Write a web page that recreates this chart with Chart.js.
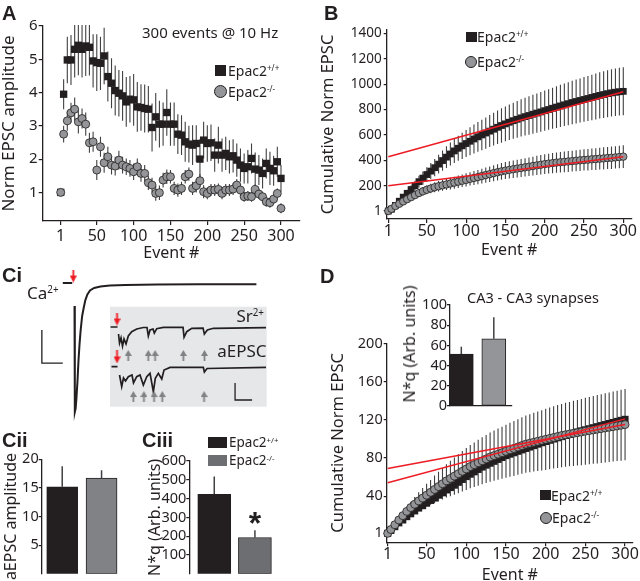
<!DOCTYPE html>
<html>
<head>
<meta charset="utf-8">
<script src="https://cdn.jsdelivr.net/npm/chart.js"></script>
<style>
  body { margin: 0; background: #fff; }
  #fig { position: relative; width: 640px; height: 581px; overflow: hidden; background: #fff;
         font-family: 'Noto Sans', sans-serif; color: #231f20; }
  #fig canvas { position: absolute; left: 0; top: 0; }
  .lbl { position: absolute; white-space: nowrap; line-height: 1; transform: translateY(-50%); }
  .ctr { position: absolute; white-space: nowrap; line-height: 1; transform: translate(-50%, -50%); }
  .rot { position: absolute; white-space: nowrap; line-height: 1; transform: translate(-50%, -50%) rotate(-90deg); }
  .panel { position: absolute; font: bold 20px 'Liberation Sans', Arial, sans-serif; line-height: 1; }
  .sq { position: absolute; background: #231f20; }
  .dot { position: absolute; border-radius: 50%; background: #939598; border: 1px solid #231f20; box-sizing: border-box; }
  sup { font-size: 58%; vertical-align: 0.6em; line-height: 0; }
</style>
</head>
<body>
<div id="fig">
  <canvas id="cA" width="640" height="581"></canvas>
  <canvas id="cB" width="640" height="581"></canvas>
  <canvas id="cCa" width="640" height="581"></canvas>
  <canvas id="cSr" width="640" height="581"></canvas>
  <canvas id="cCii" width="640" height="581"></canvas>
  <canvas id="cCiii" width="640" height="581"></canvas>
  <canvas id="cD" width="640" height="581"></canvas>
  <canvas id="cDin" width="640" height="581"></canvas>

  <div class="panel" style="left:2px;top:2.5px">A</div>
  <div class="panel" style="left:324px;top:2.5px">B</div>
  <div class="panel" style="left:2px;top:264.5px">Ci</div>
  <div class="panel" style="left:320px;top:265.5px">D</div>
  <div class="panel" style="left:2px;top:429.5px">Cii</div>
  <div class="panel" style="left:142px;top:429.5px">Ciii</div>

  <div class="lbl" style="left:142px;top:32px;font-size:15px">300 events @ 10 Hz</div>
  <div class="sq" style="left:215px;top:65px;width:11px;height:11px"></div>
  <div class="lbl" style="left:228px;top:71px;font-size:14px">Epac2<sup>+/+</sup></div>
  <div class="dot" style="left:213.5px;top:85px;width:13px;height:13px"></div>
  <div class="lbl" style="left:228px;top:92px;font-size:14px">Epac2<sup>-/-</sup></div>

  <div class="sq" style="left:466px;top:31.5px;width:11px;height:10px"></div>
  <div class="lbl" style="left:477px;top:37px;font-size:14px">Epac2<sup>+/+</sup></div>
  <div class="dot" style="left:465px;top:56px;width:12px;height:12px"></div>
  <div class="lbl" style="left:477px;top:62px;font-size:14px">Epac2<sup>-/-</sup></div>

  <div class="lbl" style="left:27px;top:292px;font-size:17px">Ca<sup>2+</sup></div>
  <div class="lbl" style="right:376px;top:315px;font-size:17px">Sr<sup>2+</sup></div>
  <div class="lbl" style="right:373.5px;top:350px;font-size:17px">aEPSC</div>

  <div class="sq" style="left:208px;top:437px;width:19px;height:11px"></div>
  <div class="lbl" style="left:229px;top:443px;font-size:13.5px">Epac2<sup>+/+</sup></div>
  <div class="sq" style="left:208px;top:455px;width:19px;height:11px;background:#6d6e71"></div>
  <div class="lbl" style="left:229px;top:461px;font-size:13.5px">Epac2<sup>-/-</sup></div>
  <div class="ctr" style="left:255px;top:523px;font:bold 32px 'Liberation Sans', Arial, sans-serif">*</div>

  <div class="ctr" style="left:533px;top:297px;font-size:14.5px">CA3 - CA3 synapses</div>
  <div class="rot" style="left:409px;top:344px;font-size:16px">N*q (Arb. units)</div>
  <div class="sq" style="left:540px;top:490px;width:11px;height:10px"></div>
  <div class="lbl" style="left:551px;top:495.5px;font-size:14px">Epac2<sup>+/+</sup></div>
  <div class="dot" style="left:540px;top:511.5px;width:12px;height:12px"></div>
  <div class="lbl" style="left:552px;top:518px;font-size:14px">Epac2<sup>-/-</sup></div>
</div>

<script>
const INK = '#231f20';
const GREY = '#939598';
const RED = '#ed1c24';
const W = 640, H = 581;

// event numbers sampled along the 300-pulse train
const events = [1,5,10,15,20,25,30,35,40,45,50,55,60,65,70,75,80,85,90,95,100,105,110,115,120,125,130,135,140,145,150,
  155,160,165,170,175,180,185,190,195,200,205,210,215,220,225,230,235,240,245,250,255,260,265,270,275,280,285,290,295,300];
const eventTicks = [1, 50, 100, 150, 200, 250, 300];

// A - normalised EPSC amplitude
const ampTicks = [1, 2, 3, 4, 5, 6];
const ampWT = [1.00,3.95,4.98,4.98,5.30,5.42,5.30,5.40,5.36,4.95,4.90,4.88,5.10,4.48,4.28,4.06,3.98,3.90,3.72,3.80,3.78,
  3.57,3.55,3.52,3.50,2.95,3.27,3.05,3.05,3.40,3.05,3.05,2.75,2.72,2.52,2.45,2.42,2.47,2.00,2.57,2.47,2.49,2.12,2.42,2.12,
  2.17,2.07,2.10,1.97,1.82,1.72,1.77,2.02,1.70,1.67,1.57,1.87,1.72,1.65,1.92,1.42];
const errWT_A = [0,0.45,0.7,0.75,0.85,0.9,0.85,0.9,0.85,0.8,0.85,0.8,0.85,0.75,0.75,0.75,0.7,0.75,0.75,0.7,0.78,0.75,0.7,
  0.72,0.7,0.72,0.72,0.7,0.65,0.7,0.65,0.65,0.6,0.6,0.6,0.55,0.6,0.55,0.6,0.55,0.55,0.55,0.5,0.55,0.5,0.5,0.5,0.5,0.5,0.5,
  0.45,0.5,0.45,0.5,0.45,0.45,0.45,0.5,0.45,0.45,0.4];
const ampKO = [1.00,2.75,3.15,3.39,3.50,3.12,3.22,3.05,2.49,2.52,1.67,2.37,1.89,2.07,1.82,1.79,1.97,1.82,1.77,1.72,1.62,
  1.77,1.57,1.57,1.29,1.22,0.97,0.99,1.37,1.47,1.47,1.12,1.07,1.12,1.47,1.55,1.12,1.20,1.35,1.02,0.97,1.07,1.07,1.09,0.97,
  1.07,1.07,1.10,1.22,1.07,0.87,0.89,0.87,1.09,0.95,0.87,0.72,0.69,0.80,0.97,0.52];
const errKO_A = [0,0.25,0.3,0.3,0.35,0.35,0.3,0.35,0.3,0.3,0.3,0.3,0.3,0.3,0.28,0.28,0.28,0.25,0.25,0.25,0.25,0.25,0.25,
  0.25,0.22,0.22,0.22,0.22,0.22,0.22,0.2,0.2,0.2,0.2,0.2,0.2,0.2,0.2,0.2,0.2,0.18,0.18,0.18,0.18,0.18,0.18,0.18,0.18,0.18,
  0.18,0.15,0.15,0.15,0.15,0.15,0.15,0.15,0.15,0.15,0.15,0.15];

// B - cumulative EPSC, CA1
const cumTicksB = [1, 200, 400, 600, 800, 1000, 1200, 1400];
const cumWT_B = [1,15,45,78,110,140,170,200,232,260,288,315,342,370,398,425,450,474,495,514,532,550,568,585,600,615,630,
  645,660,674,687,700,712,723,734,744,753,763,772,781,791,800,810,819,828,837,846,855,863,871,879,887,895,903,911,918,925,
  931,936,940,943];
const errWT_B = [0,3,9,15,22,28,34,40,46,52,58,63,68,74,80,85,90,95,99,103,106,110,114,117,120,123,126,129,132,135,137,
  140,142,145,147,149,151,153,154,156,158,160,162,164,166,167,169,171,173,174,176,177,179,181,182,184,185,186,187,188,189];
const cumKO_B = [1,18,40,58,76,94,110,126,142,156,168,178,188,196,203,210,217,224,232,239,246,254,261,268,276,284,291,299,
  306,313,319,325,330,335,340,345,350,355,360,365,370,374,378,382,385,388,391,394,397,400,403,405,408,410,413,415,418,420,
  423,426,429];
const errKO_B = [0,4,8,12,16,20,23,26,30,33,35,37,39,41,43,44,46,47,49,50,52,53,55,56,58,60,61,63,64,66,67,68,69,70,71,72,
  73,74,75,76,77,78,79,80,80,81,82,82,83,84,84,85,85,86,86,87,87,88,88,89,89];
const fitX = [1, 300];
const fitWT_B = [428, 940];
const fitKO_B = [200, 428];

// D - cumulative EPSC, CA3-CA3
const cumTicksD = [1, 40, 80, 120, 160, 200];
const cumWT_D = [1,4,8,12,15,18.5,21.5,24.5,27.5,30,32.6,35.5,38,41,43.5,46.5,49,51.5,54.5,57.5,60.5,63,65.5,68,70.5,72.5,
  74.5,76.5,78.5,80.5,82.5,84,85.5,87,88.5,90,91.5,93,94.5,96,97.3,98.6,99.9,101.2,102.4,103.6,104.8,106,107.2,108.4,109.5,
  110.6,111.7,112.8,113.9,115,116.1,117.2,118.3,119.4,120.5];
const cumKO_D = [1,5,10,15,19.5,24,28,31.5,35,38,41,44,47,50,53,56,58.5,61,63.5,66,68.5,71,73,75,77,79,81,82.5,84,85.5,87,
  88.5,90,91.5,93,94.5,95.5,96.5,97.5,98.5,99.5,100.5,101.5,102.5,103.5,104.3,105,105.8,106.5,107.2,108,108.7,109.4,110.1,
  110.8,111.5,112.2,112.9,113.6,114.3,115];
const errKO_D = [0,1,2,3,4,5,6,7.5,9,10.5,12,13,14.5,15.5,16.5,17.5,18.5,19.5,20.5,21.2,22,22.7,23.3,24,24.6,25.2,25.8,
  26.3,26.8,27.3,27.8,28.3,28.8,29.2,29.6,30,30.4,30.8,31.2,31.6,32,32.3,32.6,32.9,33.2,33.5,33.8,34.1,34.4,34.7,35,35.3,
  35.5,35.8,36,36.3,36.5,36.7,36.9,37.1,37.3];
const fitWT_D = [54, 121];
const fitKO_D = [69, 115];

// bar panels (genotype 1 = Epac2+/+, 2 = Epac2-/-)
const genotypes = [1, 2];
const nqTicksD = [0, 20, 40, 60, 80, 100];
const nqCA3 = [51.5, 66.6];
const nqCA3Err = [7.2, 21.2];
const aepscTicks = [5, 10, 15, 20];
const aepscAmp = [15.2, 16.7];
const aepscErr = [3.6, 1.4];
const nqTicksC = [100, 200, 300, 400, 500, 600];
const nqCA1 = [423, 193];
const nqCA1Err = [94, 38];

// Ci - example traces (ms, pA)
const caTime = [-10, -1, null, 1.2, 1.5, 2.3, 3, 4, 5, 6, 7, 8.5, 10, 11.5, 13.5, 16, 20, 26, 35, 50, 80, 120, 175];
const caCurrent = [0, 0, null, -140, -782, -760, -700, -600, -470, -370, -290, -200, -150, -105, -70, -45, -30, -22, -16,
  -12, -9, -8, -8];
const caBarTime = [-30, -30, -10];
const caBarCurrent = [-285, -485, -485];
const caStimTime = [0];
const caStimLevel = [42];

const srTime1 = [-19, 1.5, null, 4.4, 7.4, 11.8, 16.2, 20.6, 26.5, 33.2, 43.2, 57.9, 77.4, 88.2, 92.1, 97.1, 105.9, 109.7,
  116.8, 136.2, 194.1, 197.1, 205, 219.7, 252.9, 256.8, 265.6, 283.2, 438];
const srCurrent1 = [0, 0, null, -8.2, -18.8, -12.9, -22.4, -14.1, -20, -10.6, -5.5, -2.4, -0.6, -0.6, -10.6, -3.5, -2.4,
  -7.1, -2, -0.4, -0.4, -12.1, -5.5, -1.5, -1.2, -8.2, -3.5, -1.5, -0.8];
const srTime2 = [-16.2, 1.5, null, 7.4, 13.8, 19.1, 25, 33.2, 44.1, 48.5, 57.9, 67.6, 77.4, 87.4, 97.1, 106.8, 112.6, 121.5,
  131.5, 138.2, 155.9, 253.8, 256.8, 264.7, 438];
const srCurrent2 = [-46.7, -46.7, null, -56.5, -70.2, -60, -63.5, -58.5, -56.5, -65.9, -58.5, -56.5, -68.2, -58.5, -54.5,
  -76.1, -60.4, -54.5, -61.2, -50.6, -47.6, -47.6, -52.9, -48.8, -47.4];
const srStimTime = [0, 0];
const srStimLevel = [9.4, -35.3];
const asyncTime1 = [33, 92, 112, 195, 257];
const asyncLevel1 = [-33.5, -33.5, -33.5, -33.5, -33.5];
const asyncTime2 = [48, 79, 109, 133, 256];
const asyncLevel2 = [-81.8, -81.8, -81.8, -81.8, -81.8];
const srBarTime = [347, 347, 397];
const srBarCurrent = [-65.9, -85.9, -85.9];

// error bars drawn behind the markers, clipped to the plot area
const errorBars = {
  id: 'errorBars',
  beforeDatasetsDraw(chart) {
    const ctx = chart.ctx;
    const a = chart.chartArea;
    chart.data.datasets.forEach((ds, i) => {
      if (!ds.errors) return;
      const meta = chart.getDatasetMeta(i);
      const ys = chart.scales[meta.yAxisID];
      ctx.save();
      ctx.beginPath();
      ctx.rect(a.left, a.top - 1, a.right - a.left, a.bottom - a.top + 2);
      ctx.clip();
      ctx.strokeStyle = ds.errorColor || INK;
      ctx.lineWidth = ds.errorWidth || 1;
      meta.data.forEach((el, j) => {
        const e = ds.errors[j];
        if (!e) return;
        const v = ds.data[j].y;
        const top = ys.getPixelForValue(v + e);
        const bot = ds.errorUp ? ys.getPixelForValue(v) : ys.getPixelForValue(v - e);
        ctx.beginPath();
        ctx.moveTo(el.x, top);
        ctx.lineTo(el.x, bot);
        ctx.stroke();
      });
      ctx.restore();
    });
  }
};

const panelFill = {
  id: 'panelFill',
  beforeDraw(chart, args, opts) {
    if (!opts || !opts.color) return;
    const a = chart.chartArea;
    chart.ctx.save();
    chart.ctx.fillStyle = opts.color;
    chart.ctx.fillRect(a.left, a.top, a.right - a.left, a.bottom - a.top);
    chart.ctx.restore();
  }
};

Chart.register(errorBars, panelFill);
Chart.defaults.font.family = "'Noto Sans', sans-serif";
Chart.defaults.color = INK;

function pts(xs, ys) {
  return xs.map((x, i) => ({ x: x, y: ys[i] }));
}

function frame(area, yW, xH) {
  return { left: area.l - yW, top: area.t, right: W - area.r, bottom: H - area.b - xH };
}

function baseOptions(padding, scales, plugins) {
  return {
    responsive: false,
    animation: false,
    devicePixelRatio: 1,
    layout: { padding: padding, autoPadding: false },
    plugins: Object.assign({ legend: { display: false }, tooltip: { enabled: false } }, plugins || {}),
    scales: scales
  };
}

function linAxis(o) {
  const vertical = o.position === 'left';
  const hasTicks = !!o.ticks;
  return {
    type: 'linear',
    position: o.position,
    min: o.min,
    max: o.max,
    offset: false,
    afterBuildTicks: s => { s.ticks = (o.ticks || []).map(v => ({ value: v })); },
    afterFit: s => { if (vertical) s.width = o.size; else s.height = o.size; },
    ticks: {
      display: hasTicks,
      font: { size: o.font || 14, lineHeight: 1 },
      color: INK,
      padding: o.pad || 0,
      autoSkip: false,
      maxRotation: 0,
      callback: v => String(v)
    },
    grid: { display: hasTicks, offset: false, drawOnChartArea: false, drawTicks: true, tickLength: o.tick || 4, color: INK, lineWidth: 1.2 },
    border: { display: o.line !== false, color: INK, width: 1.3 },
    title: o.title ? {
      display: true, text: o.title, color: INK,
      font: { size: o.titleSize || 16, lineHeight: 1 },
      padding: { top: o.titlePad || 0, bottom: o.titlePad || 0 }
    } : { display: false }
  };
}

function hiddenAxis(min, max) {
  return { type: 'linear', display: false, min: min, max: max, offset: false };
}

function arrowImage(color, w, h, up) {
  const c = document.createElement('canvas');
  c.width = w; c.height = h;
  const g = c.getContext('2d');
  const head = Math.round(h * 0.55);
  g.fillStyle = color;
  g.beginPath();
  if (up) {
    g.moveTo(w / 2, 0); g.lineTo(w, head); g.lineTo(0, head);
    g.closePath(); g.fill();
    g.fillRect(w / 2 - 0.9, head, 1.8, h - head);
  } else {
    g.fillRect(w / 2 - 0.9, 0, 1.8, h - head);
    g.moveTo(0, h - head); g.lineTo(w, h - head); g.lineTo(w / 2, h);
    g.closePath(); g.fill();
  }
  return c;
}

const redArrow = arrowImage(RED, 7, 13, false);
const greyArrow = arrowImage('#808285', 7, 11, true);

function fitLine(ys) {
  return { data: pts(fitX, ys), showLine: true, borderColor: RED, borderWidth: 1.5, pointRadius: 0, clip: false };
}

function circles(ys, errs, r) {
  return { data: pts(events, ys), errors: errs, errorColor: '#414042', errorWidth: 1.1, pointStyle: 'circle',
    pointRadius: r, backgroundColor: GREY, borderColor: INK, borderWidth: 0.8, clip: false };
}

function squares(ys, errs, r) {
  return { data: pts(events, ys), errors: errs, errorColor: '#414042', errorWidth: 1.1, pointStyle: 'rect',
    pointRadius: r, backgroundColor: INK, borderColor: INK, borderWidth: 0, clip: false };
}

function traceLine(xs, ys, width) {
  return { data: pts(xs, ys), showLine: true, spanGaps: false, borderColor: INK, borderWidth: width,
    pointRadius: 0, clip: false };
}

function marks(xs, ys, img) {
  return { data: pts(xs, ys), pointStyle: img, pointRadius: 5, clip: false };
}

function bars(ys, errs, colors, thickness) {
  return { data: pts(genotypes, ys), errors: errs, errorUp: true, errorColor: '#414042', errorWidth: 1.5,
    backgroundColor: colors, borderColor: INK, borderWidth: 1, borderSkipped: false, barThickness: thickness };
}

// A
new Chart(document.getElementById('cA'), {
  type: 'scatter',
  data: { datasets: [circles(ampKO, errKO_A, 4), squares(ampWT, errWT_A, 5.2)] },
  options: baseOptions(frame({ l: 42.7, t: 26, r: 300, b: 221 }, 42.7, 44), {
    x: linAxis({ position: 'bottom', min: -23.4, max: 325.8, ticks: eventTicks, size: 44, font: 16, pad: 3.7,
      title: 'Event #', titleSize: 16, titlePad: 4 }),
    y: linAxis({ position: 'left', min: 0.14, max: 6, ticks: ampTicks, size: 42.7, font: 15, pad: 1,
      title: 'Norm EPSC amplitude', titleSize: 17, titlePad: 0.5 })
  })
});

// B
new Chart(document.getElementById('cB'), {
  type: 'scatter',
  data: { datasets: [fitLine(fitWT_B), fitLine(fitKO_B), circles(cumKO_B, errKO_B, 3.7), squares(cumWT_B, errWT_B, 4.8)] },
  options: baseOptions(frame({ l: 386.7, t: 30, r: 631.7, b: 219 }, 68.7, 41.7), {
    x: linAxis({ position: 'bottom', min: -1.04, max: 310.7, ticks: eventTicks, size: 41.7, font: 16, pad: 0.7,
      title: 'Event #', titleSize: 16, titlePad: 2 }),
    y: linAxis({ position: 'left', min: -62, max: 1426, ticks: cumTicksB, size: 68.7, font: 13.5, pad: 2, tick: 3,
      title: 'Cumulative Norm EPSC', titleSize: 16.5, titlePad: 2.2 })
  })
});

// Ci - Ca2+ evoked EPSC
new Chart(document.getElementById('cCa'), {
  type: 'scatter',
  data: { datasets: [
    marks(caStimTime, caStimLevel, redArrow),
    traceLine(caTime, caCurrent, 2),
    traceLine(caBarTime, caBarCurrent, 1.3)
  ] },
  options: baseOptions({ left: 0, top: 262, right: 370, bottom: 159 }, {
    x: hiddenAxis(-70, 188),
    y: hiddenAxis(-842, 127)
  })
});

// Ci inset - Sr2+ asynchronous EPSCs
new Chart(document.getElementById('cSr'), {
  type: 'scatter',
  data: { datasets: [
    marks(srStimTime, srStimLevel, redArrow),
    marks(asyncTime1, asyncLevel1, greyArrow),
    marks(asyncTime2, asyncLevel2, greyArrow),
    traceLine(srTime1, srCurrent1, 1.7),
    traceLine(srTime2, srCurrent2, 1.7),
    traceLine(srBarTime, srBarCurrent, 1.3)
  ] },
  options: baseOptions({ left: 110, top: 306.7, right: 373.3, bottom: 174.3 }, {
    x: hiddenAxis(-20.6, 440),
    y: hiddenAxis(-93.8, 23.9)
  }, { panelFill: { color: '#e6e7e8' } })
});

// Cii
new Chart(document.getElementById('cCii'), {
  type: 'bar',
  data: { datasets: [bars(aepscAmp, aepscErr, [INK, '#808285'], 31)] },
  options: baseOptions(frame({ l: 41.7, t: 459.3, r: 122, b: 579.3 }, 40, 0), {
    x: hiddenAxis(0.478, 2.52),
    y: linAxis({ position: 'left', min: 0, max: 20, ticks: aepscTicks, size: 40, font: 14.5, pad: 0, tick: 3,
      title: 'aEPSC amplitude', titleSize: 16, titlePad: 2 })
  })
});

// Ciii
new Chart(document.getElementById('cCiii'), {
  type: 'bar',
  data: { datasets: [bars(nqCA1, nqCA1Err, [INK, '#6d6e71'], 33)] },
  options: baseOptions(frame({ l: 189.3, t: 461, r: 285, b: 578.6 }, 44.3, 0), {
    x: hiddenAxis(0.386, 2.74),
    y: linAxis({ position: 'left', min: 0, max: 600, ticks: nqTicksC, size: 44.3, font: 14.5, pad: 0, tick: 3,
      title: 'N*q (Arb. units)', titleSize: 16, titlePad: 2 })
  })
});

// D
new Chart(document.getElementById('cD'), {
  type: 'scatter',
  data: { datasets: [fitLine(fitWT_D), fitLine(fitKO_D), circles(cumKO_D, errKO_D, 4), squares(cumWT_D, null, 5)] },
  options: baseOptions(frame({ l: 386.7, t: 343.5, r: 633, b: 542.3 }, 58.7, 38.7), {
    x: linAxis({ position: 'bottom', min: -0.26, max: 310, ticks: eventTicks, size: 38.7, font: 16, pad: -0.3,
      title: 'Event #', titleSize: 16, titlePad: -2 }),
    y: linAxis({ position: 'left', min: -8.4, max: 200, ticks: cumTicksD, size: 58.7, font: 14.5, pad: 1, tick: 3,
      title: 'Cumulative Norm EPSC', titleSize: 16.5, titlePad: 2.2 })
  })
});

// D inset
new Chart(document.getElementById('cDin'), {
  type: 'bar',
  data: { datasets: [bars(nqCA3, nqCA3Err, [INK, GREY], 24)] },
  options: baseOptions(frame({ l: 450, t: 305, r: 512, b: 406 }, 40, 0), {
    x: linAxis({ position: 'bottom', min: 0.652, max: 2.56, size: 0 }),
    y: linAxis({ position: 'left', min: 0, max: 100, ticks: nqTicksD, size: 40, font: 14.5, pad: 0, tick: 3 })
  })
});
</script>
</body>
</html>
